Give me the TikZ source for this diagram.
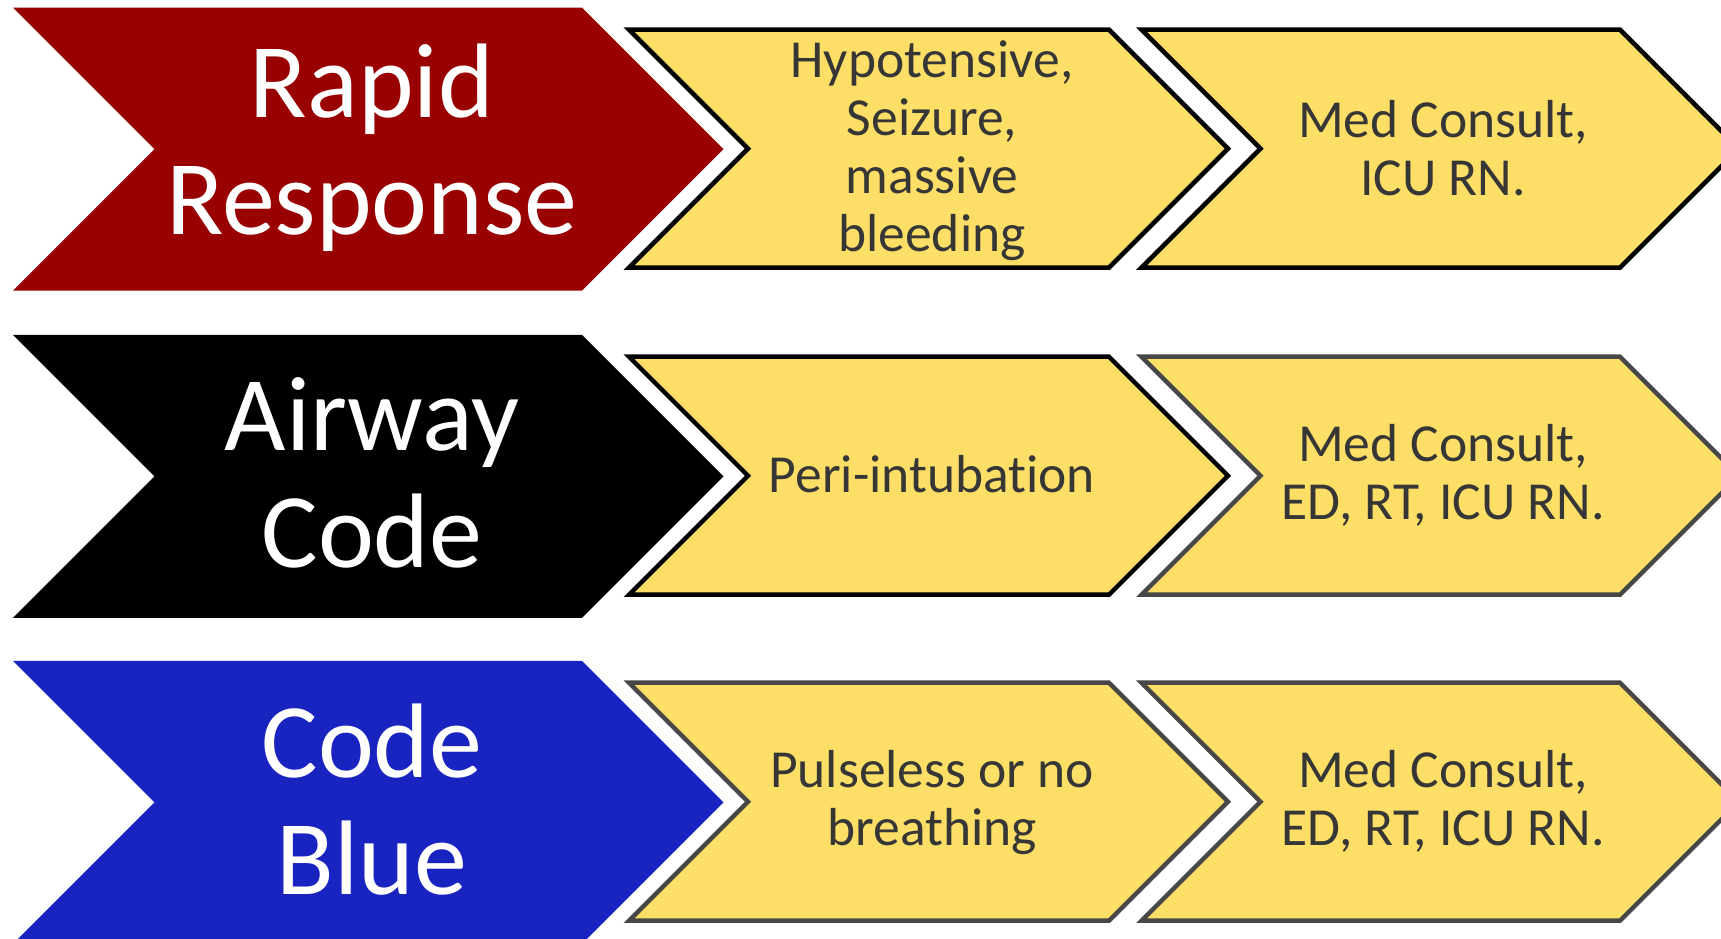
\documentclass[tikz,border=0pt]{standalone}
\usepackage{fontspec}
\setmainfont{Carlito}[Ligatures=NoCommon]
\definecolor{rrred}{HTML}{990000}
\definecolor{cbblue}{HTML}{1923C0}
\definecolor{ylw}{HTML}{FDDE66}
\definecolor{txt}{HTML}{363636}
\definecolor{edgegray}{HTML}{474747}
\newcommand\chevron[5]{\path[#5] (#1,#2) -- ++(#3,0) -- ++(#4/2,#4/2) -- ++(-#4/2,#4/2) -- ++(-#3,0) -- ++(#4/2,-#4/2) -- cycle;}
\begin{document}
\begin{tikzpicture}[x=1pt,y=-1pt,
  big/.style={text=white,align=center,inner sep=0pt,font=\fontsize{106}{117}\selectfont},
  small/.style={text=txt,align=center,inner sep=0pt,font=\fontsize{53.5}{58}\selectfont},
  ybox/.style={fill=ylw,draw=black,line width=4.5pt,line join=miter},
  gbox/.style={fill=ylw,draw=edgegray,line width=4.5pt,line join=miter}]
\useasboundingbox (0,0) rectangle (1721,938);
\fill[white] (0,0) rectangle (1721,938);
\begin{scope}
\clip (0,0) rectangle (1721,938);
% Row 1
\chevron{13}{7.7}{569}{283}{fill=rrred}
\chevron{629}{29.6}{480}{238}{ybox}
\chevron{1141.5}{29.6}{478.5}{238}{ybox}
\node[big] (rr) at (372,148) {Rapid\\Response};
\node[small] (rrcause) at (932,151) {Hypotensive,\\Seizure,\\massive\\bleeding};
\node[small] (rrteam) at (1443,148) {Med Consult,\\ICU RN.};
% Row 2
\chevron{13}{334.8}{569}{283}{fill=black}
\chevron{629}{356.7}{480}{238}{ybox}
\chevron{1141.5}{356.7}{478.5}{238}{gbox}
\node[big] (ac) at (372,473) {Airway\\Code};
\node[small] (accause) at (932,474) {Peri-intubation};
\node[small] (acteam) at (1443,475) {Med Consult,\\ED, RT, ICU RN.};
% Row 3
\chevron{13}{660.8}{569}{283}{fill=cbblue}
\chevron{629}{682.7}{480}{238}{gbox}
\chevron{1141.5}{682.7}{478.5}{238}{gbox}
\node[big] (cb) at (372,800) {Code\\Blue};
\node[small] (cbcause) at (932,803) {Pulseless or no\\breathing};
\node[small] (cbteam) at (1443,801) {Med Consult,\\ED, RT, ICU RN.};
\end{scope}
\end{tikzpicture}
\end{document}
